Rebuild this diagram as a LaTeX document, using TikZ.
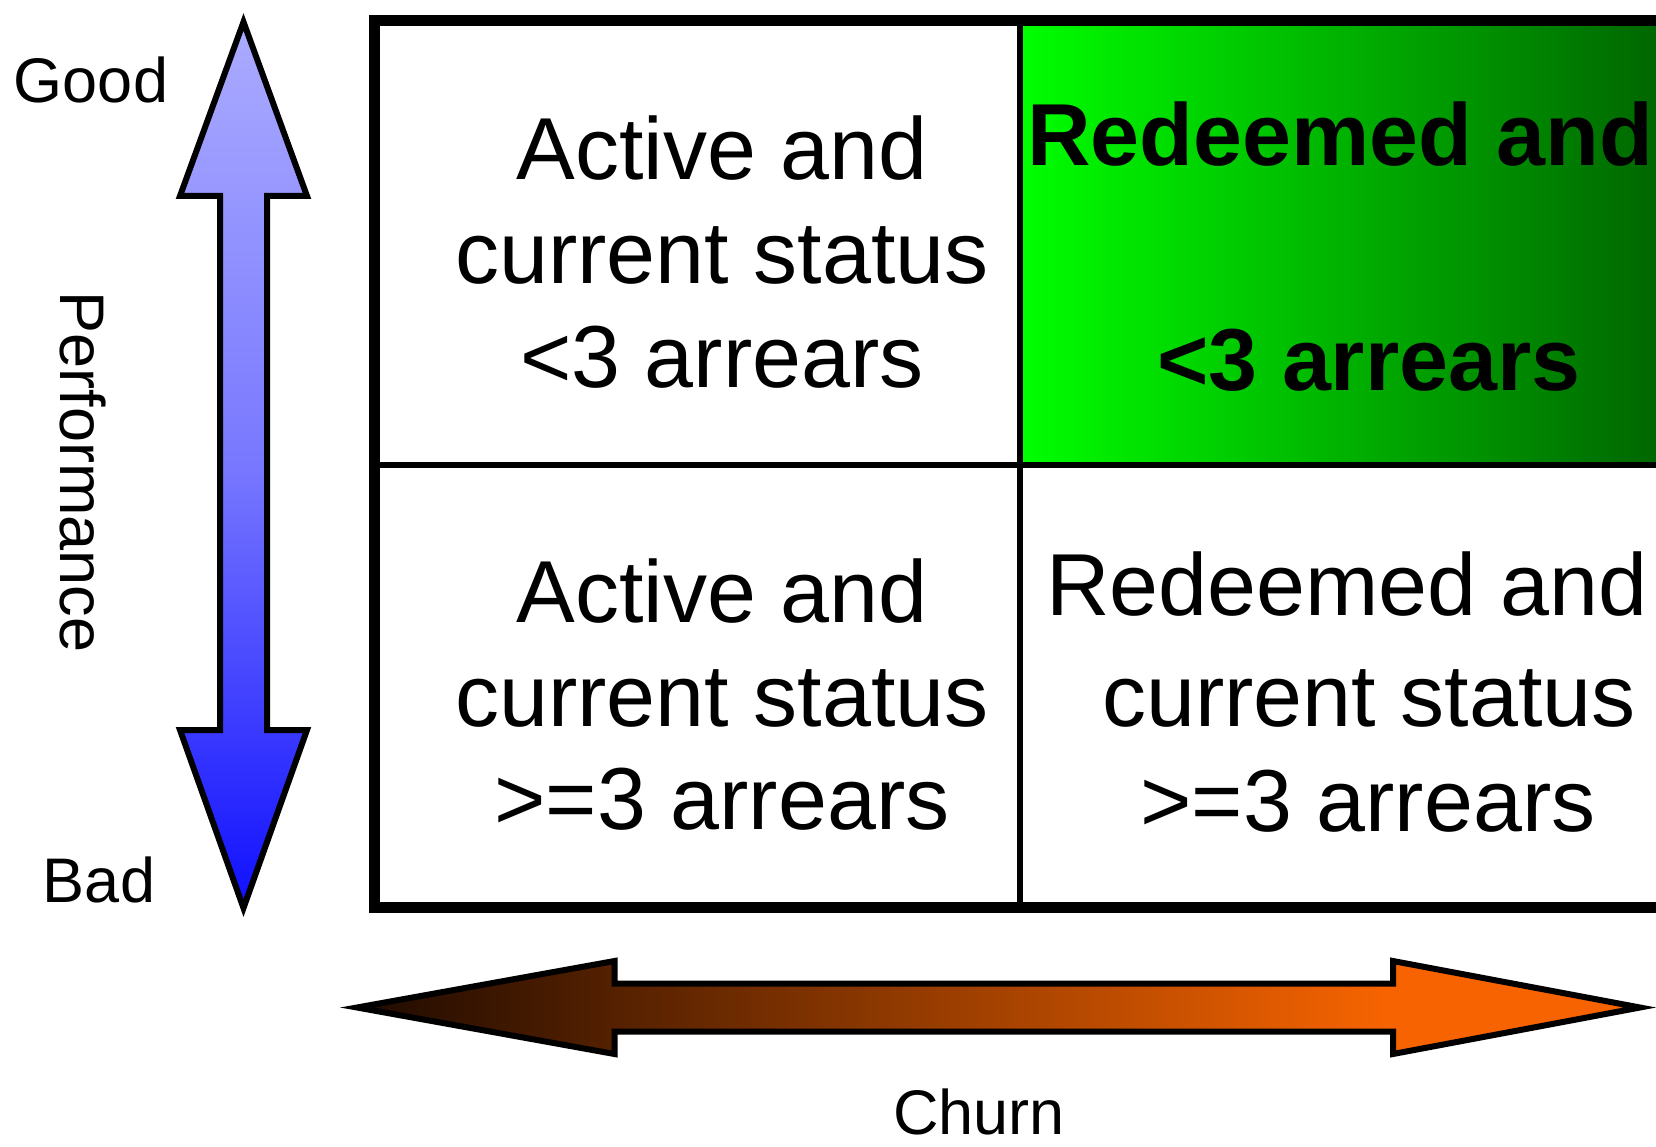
\documentclass[tikz,border=0pt]{standalone}
\usepackage{fontspec}
\setmainfont{Liberation Sans}
\pgfdeclarehorizontalshading{churnshade}{100bp}{rgb(0bp)=(0.12,0.04,0); rgb(25bp)=(0.12,0.04,0); rgb(65bp)=(0.965,0.39,0); rgb(100bp)=(0.965,0.39,0)}
\pgfdeclareverticalshading{perfshade}{100bp}{rgb(0bp)=(0.06,0.06,1); rgb(25bp)=(0.06,0.06,1); rgb(50bp)=(0.47,0.47,1); rgb(75bp)=(0.67,0.67,1); rgb(100bp)=(0.67,0.67,1)}
\definecolor{greenL}{RGB}{0,255,0}
\definecolor{greenR}{RGB}{0,100,0}
\begin{document}
\begin{tikzpicture}[x=1pt,y=-1pt,
  celltext/.style={inner sep=0pt, anchor=base, font=\fontsize{88}{100}\selectfont},
  cellbold/.style={inner sep=0pt, anchor=base, font=\fontsize{88}{100}\selectfont\bfseries},
  axislabel/.style={inner sep=0pt, anchor=base, font=\fontsize{63}{70}\selectfont},
  arrowshape/.style={draw=black, line width=6pt, line join=miter}]
\useasboundingbox (0,0) rectangle (1656,1147);
\fill[white] (0,0) rectangle (1656,1147);
\clip (0,0) rectangle (1656,1147);
% highlighted cell
\fill[left color=greenL, right color=greenR] (1020,21) rectangle (1668,464.5);
% grid
\draw[line width=6pt] (1020,21) -- (1020,907.5);
\draw[line width=6pt] (374,464.5) -- (1668,464.5);
\draw[line width=11pt] (374,21) rectangle (1668,907.5);
% cell texts
\node[celltext] (tl1) at (722,180) {Active and};
\node[celltext] (tl2) at (722,284) {current status};
\node[celltext] (tl3) at (722,387) {<3 arrears};
\node[celltext] (bl1) at (722,622) {Active and};
\node[celltext] (bl2) at (722,726) {current status};
\node[celltext] (bl3) at (722,829) {>=3 arrears};
\node[cellbold] (tr1) at (1340,166) {Redeemed and};
\node[cellbold] (tr3) at (1369,390.5) {<3 arrears};
\node[celltext] (br1) at (1347,615.5) {Redeemed and};
\node[celltext] (br2) at (1369,726) {current status};
\node[celltext] (br3) at (1368,831) {>=3 arrears};
% performance arrow
\draw[arrowshape, shading=perfshade]
  (243.5,22) -- (307,196) -- (267,196) -- (267,730) -- (307,730) -- (243.5,908)
  -- (180,730) -- (220,730) -- (220,196) -- (180,196) -- cycle;
% churn arrow
\draw[arrowshape, shading=churnshade]
  (357,1007.5) -- (614.5,961) -- (614.5,983.5) -- (1393,983.5) -- (1393,961)
  -- (1640,1007.5) -- (1393,1054) -- (1393,1031.5) -- (614.5,1031.5)
  -- (614.5,1054) -- cycle;
% axis labels
\node[axislabel] (good) at (91,103) {Good};
\node[axislabel] (bad) at (99,902) {Bad};
\node[axislabel, rotate=-90] (perf) at (60,472) {Performance};
\node[axislabel] (churn) at (979,1134) {Churn};
\end{tikzpicture}
\end{document}
